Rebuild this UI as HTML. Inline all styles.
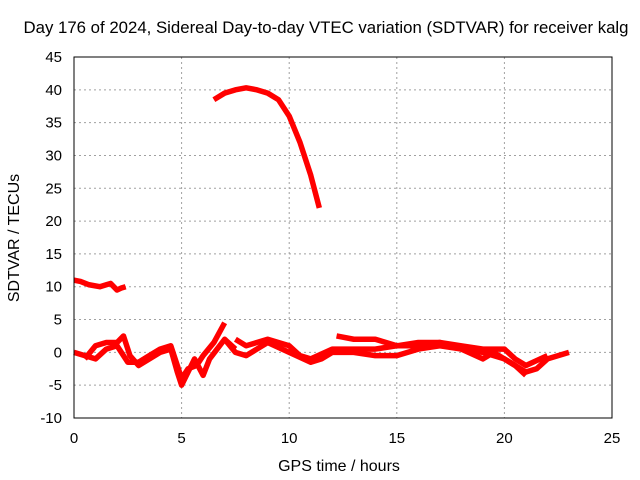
<!DOCTYPE html>
<html><head><meta charset="utf-8"><style>
body{margin:0;background:#fff;}
svg{display:block;font-family:"Liberation Sans",sans-serif;}
</style></head><body>
<svg id="chart" width="640" height="480">
<text x="326" y="33" font-size="16.8" text-anchor="middle">Day 176 of 2024, Sidereal Day-to-day VTEC variation (SDTVAR) for receiver kalg</text>
<text x="339" y="471" font-size="16" text-anchor="middle">GPS time / hours</text>
<text transform="translate(19,238) rotate(-90)" font-size="16" text-anchor="middle">SDTVAR / TECUs</text>
<g id="grid"></g><g id="ticks"></g><g id="series"></g>
<rect x="74" y="57" width="538" height="361" fill="none" stroke="#000"/>
</svg>
<script>
const xTicks=[0,5,10,15,20,25];
const yTicks=[-10,-5,0,5,10,15,20,25,30,35,40,45];
const arcA=[[0,11],[0.3,10.8],[0.7,10.3],[1.2,10],[1.5,10.3],[1.7,10.5],[2,9.5],[2.2,9.8],[2.4,10]];
const arcB=[[6.5,38.5],[7,39.5],[7.5,40],[8,40.3],[8.5,40],[9,39.5],[9.5,38.5],[10,36],[10.5,32],[11,27],[11.4,22]];
const arc1=[[0,0],[0.5,-0.5],[1,-1],[1.5,0.5],[2,1],[2.5,-1.5],[3,-1.5],[3.5,-0.5],[4,0.5],[4.5,1],[4.8,-2],[5,-4],[5.3,-2.5],[5.7,-2],[6,-0.5],[6.5,1.5],[7,4.5]];
const arc2=[[0.5,-1],[1,1],[1.5,1.5],[2,1.5],[2.3,2.5],[2.6,-0.5],[3,-2],[4,0],[4.5,0.5],[4.8,-3],[5,-5],[5.3,-3],[5.6,-1],[6,-3.5],[6.3,-1],[7,2],[7.5,0.5]];
const arc3=[[7,2],[7.5,0],[8,-0.5],[8.5,0.5],[9,1.5],[10,0],[11,-1.5],[11.5,-1],[12,0],[13,0],[14,-0.5],[15,-0.5],[16,0.5],[17,1],[18,0.5],[19,0],[20,-1],[21,-3],[21.5,-2.5],[22,-1],[23,0]];
const arc4=[[7.5,2],[8,1],[9,2],[10,1],[10.5,-0.5],[11,-1],[12,0.5],[14,0.5],[15,1],[16,1.5],[17,1.5],[18,1],[19,0.5],[20,0.5],[20.5,-1],[21,-2],[22,-0.5]];
const arc5=[[12.2,2.5],[13,2],[14,2],[14.5,1.5],[15,1],[16,1],[17,1.5],[18,0.5],[19,-1],[19.5,0],[20,-1],[20.5,-2],[21,-3.5]];
const allArcs=[arcA,arcB,arc1,arc2,arc3,arc4,arc5];
const X=v=>74+v*538/25, Y=v=>418-(v+10)*361/55;
const NS="http://www.w3.org/2000/svg";
const grid=document.getElementById('grid'),ticks=document.getElementById('ticks'),ser=document.getElementById('series');
function mk(tag,at,parent){const e=document.createElementNS(NS,tag);for(const k in at)e.setAttribute(k,at[k]);parent.appendChild(e);return e;}
xTicks.forEach(t=>{
 const g=mk('line',{x1:X(t),x2:X(t),y1:57,y2:418,stroke:'#a0a0a0','stroke-dasharray':'2,3'},grid);
 
 
 const tx=mk('text',{x:X(t),y:443,'font-size':15,'text-anchor':'middle'},ticks);tx.textContent=t;
 
 
});
yTicks.forEach(t=>{
 const g=mk('line',{x1:74,x2:612,y1:Y(t),y2:Y(t),stroke:'#a0a0a0','stroke-dasharray':'2,3'},grid);
 
 
 const tx=mk('text',{x:62,y:Y(t)+5,'font-size':15,'text-anchor':'end'},ticks);tx.textContent=t;
 
 
});
allArcs.forEach(a=>{
 const p=mk('polyline',{points:a.map(d=>X(d[0])+','+Y(d[1])).join(' '),fill:'none',stroke:'#ff0000','stroke-width':5.5,'stroke-linejoin':'round'},ser);
 
 
});
</script>
</body></html>
